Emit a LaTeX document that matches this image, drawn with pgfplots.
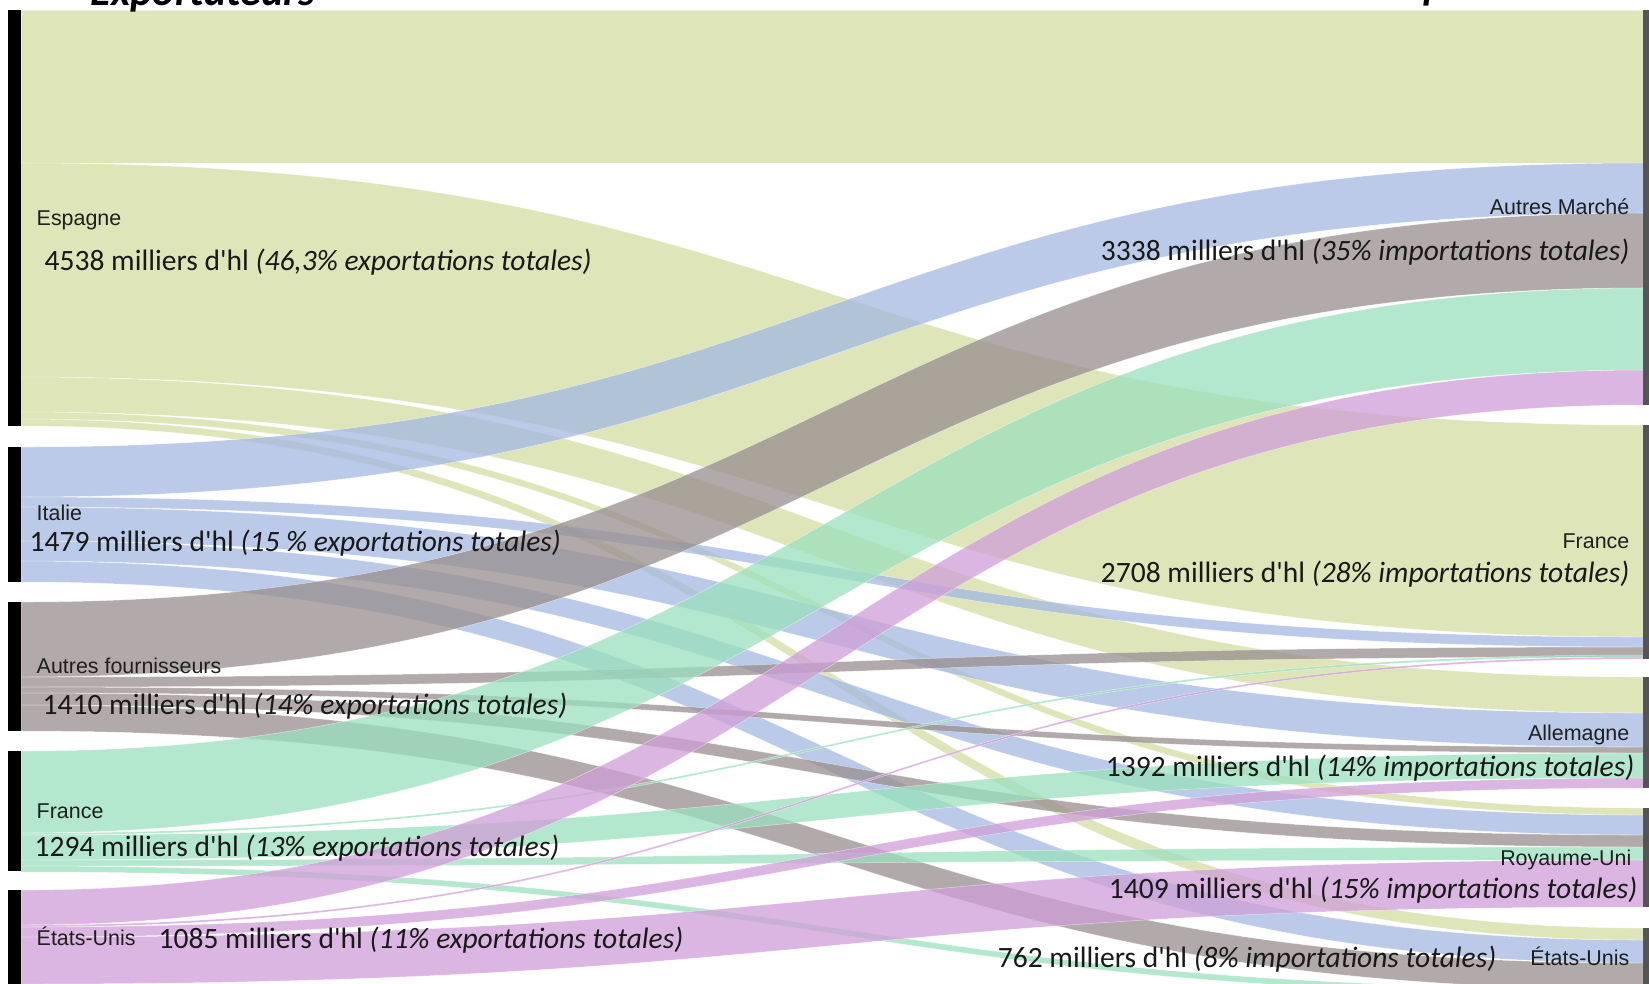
\documentclass[border=0pt]{standalone}
\usepackage{fontspec}
\setmainfont{Carlito}[Ligatures=TeXOff]
\newfontfamily\arialf{Liberation Sans}
\usepackage{pgfplots}
\usepackage{pgfplotstable}
\pgfplotsset{compat=1.18}

\definecolor{col0}{RGB}{211,220,162}
\definecolor{col1}{RGB}{163,184,224}
\definecolor{col2}{RGB}{152,142,142}
\definecolor{col3}{RGB}{155,224,190}
\definecolor{col4}{RGB}{208,158,216}
\definecolor{bar0}{RGB}{0,0,0}
\definecolor{bar1}{RGB}{85,85,85}

% flows: left top/bottom, right top/bottom (vertical positions, 1 unit = 1 px), exporter colour
\pgfplotstableread{
la lb ra rb c
10 163 10 163 0
163 377 425 637 0
377 412 677 713 0
412 419 808 815 0
419 426 928 940 0
447 497 163 213 1
497 507 637 647 1
507 541 713 747 1
541 561 815 835 1
561 582 940 963 1
602 677 213 288 2
677 687 647 657 2
687 693 747 753 2
693 705 835 847 2
705 731 963 989 2
751 833 288 370 3
833 835 655 657 3
835 860 753 778 3
860 866 847 860 3
866 872 989 995 3
890 925 370 405 4
925 927 657 659 4
927 937 778 788 4
937 984 860 907 4
}\flows

% node bars: x from, x to, y from, y to, colour
\pgfplotstableread{
xa xb ya yb c
8 21 10 426 0
8 21 447 582 0
8 21 602 731 0
8 21 751 871 0
8 21 890 990 0
1643 1649 10 405 1
1643 1649 425 659 1
1643 1649 677 788 1
1643 1649 808 907 1
1643 1649 928 995 1
}\bars

\tikzset{
  lab/.style={font=\arialf\fontsize{6.1}{7}\selectfont, text=black!88, inner sep=0pt},
  num/.style={font=\fontsize{8.4}{10}\selectfont, text=black!90, inner sep=0pt},
}

\begin{document}
\begin{tikzpicture}
\begin{axis}[
  width=16.49cm, height=9.83cm, scale only axis,
  xmin=0, xmax=1649, ymin=0, ymax=983, y dir=reverse,
  hide axis, clip=true,
]
\pgfplotstablegetrowsof{\flows}
\pgfmathtruncatemacro{\nflows}{\pgfplotsretval-1}
\pgfplotsforeachungrouped \i in {0,...,\nflows}{%
  \pgfplotstablegetelem{\i}{la}\of\flows \let\la\pgfplotsretval
  \pgfplotstablegetelem{\i}{lb}\of\flows \let\lb\pgfplotsretval
  \pgfplotstablegetelem{\i}{ra}\of\flows \let\ra\pgfplotsretval
  \pgfplotstablegetelem{\i}{rb}\of\flows \let\rb\pgfplotsretval
  \pgfplotstablegetelem{\i}{c}\of\flows \let\cc\pgfplotsretval
  \edef\temp{\noexpand\filldraw[fill=col\cc, fill opacity=0.75, draw=white, draw opacity=0.5, line width=0.15pt]
    (axis cs:21,\la) .. controls (axis cs:832,\la) and (axis cs:832,\ra) .. (axis cs:1643,\ra)
    -- (axis cs:1643,\rb) .. controls (axis cs:832,\rb) and (axis cs:832,\lb) .. (axis cs:21,\lb) -- cycle;}%
  \temp
}
\pgfplotstablegetrowsof{\bars}
\pgfmathtruncatemacro{\nbars}{\pgfplotsretval-1}
\pgfplotsforeachungrouped \i in {0,...,\nbars}{%
  \pgfplotstablegetelem{\i}{xa}\of\bars \let\xa\pgfplotsretval
  \pgfplotstablegetelem{\i}{xb}\of\bars \let\xb\pgfplotsretval
  \pgfplotstablegetelem{\i}{ya}\of\bars \let\ya\pgfplotsretval
  \pgfplotstablegetelem{\i}{yb}\of\bars \let\yb\pgfplotsretval
  \pgfplotstablegetelem{\i}{c}\of\bars \let\cc\pgfplotsretval
  \edef\temp{\noexpand\fill[bar\cc] (axis cs:\xa,\ya) rectangle (axis cs:\xb,\yb);}%
  \temp
}
% titles (cut off by the top edge, as in the reference)
\node[font=\fontsize{12}{14}\selectfont\bfseries\itshape, anchor=base west, inner sep=0pt] at (axis cs:90,5) {Exportateurs};
\node[font=\fontsize{12}{14}\selectfont\bfseries\itshape, anchor=base west, inner sep=0pt] at (axis cs:1378,-1) {Importateurs};
% left labels
\node[lab, anchor=base west] at (axis cs:36,225) {Espagne};
\node[num, anchor=base west] at (axis cs:44,270) {4538 milliers d'hl \textit{(46,3\% exportations totales)}};
\node[lab, anchor=base west] at (axis cs:36,520) {Italie};
\node[num, anchor=base west] at (axis cs:29,551) {1479 milliers d'hl \textit{(15 \% exportations totales)}};
\node[lab, anchor=base west] at (axis cs:36,673) {Autres fournisseurs};
\node[num, anchor=base west] at (axis cs:42,714) {1410 milliers d'hl \textit{(14\% exportations totales)}};
\node[lab, anchor=base west] at (axis cs:36,818) {France};
\node[num, anchor=base west] at (axis cs:34,856) {1294 milliers d'hl \textit{(13\% exportations totales)}};
\node[lab, anchor=base west] at (axis cs:36,945) {États-Unis};
\node[num, anchor=base west] at (axis cs:158,948) {1085 milliers d'hl \textit{(11\% exportations totales)}};
% right labels
\node[lab, anchor=base east] at (axis cs:1630,214) {Autres Marché};
\node[num, anchor=base east] at (axis cs:1630,260) {3338 milliers d'hl \textit{(35\% importations totales)}};
\node[lab, anchor=base east] at (axis cs:1630,548) {France};
\node[num, anchor=base east] at (axis cs:1630,582) {2708 milliers d'hl \textit{(28\% importations totales)}};
\node[lab, anchor=base east] at (axis cs:1630,740) {Allemagne};
\node[num, anchor=base east] at (axis cs:1635,776) {1392 milliers d'hl \textit{(14\% importations totales)}};
\node[lab, anchor=base east] at (axis cs:1632,865) {Royaume-Uni};
\node[num, anchor=base east] at (axis cs:1638,898) {1409 milliers d'hl \textit{(15\% importations totales)}};
\node[num, anchor=base east] at (axis cs:1497,967) {762 milliers d'hl \textit{(8\% importations totales)}};
\node[lab, anchor=base east] at (axis cs:1630,965) {États-Unis};
\end{axis}
\pgfresetboundingbox
\path[use as bounding box] (0,0) rectangle (16.49cm,9.83cm);
\end{tikzpicture}
\end{document}
